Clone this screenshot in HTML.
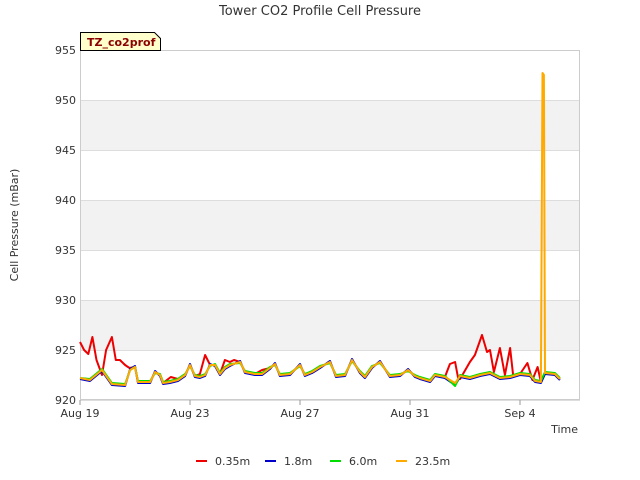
<!DOCTYPE html>
<html><head><meta charset="utf-8"><style>
body{margin:0;background:#fff;font-family:"Liberation Sans","DejaVu Sans",sans-serif;}
svg{display:block}
text{font-family:"DejaVu Sans","Liberation Sans",sans-serif}
</style></head><body>
<svg id="chart" width="640" height="480" viewBox="0 0 640 480" xmlns="http://www.w3.org/2000/svg">
<text x="320" y="15" text-anchor="middle" font-size="13" fill="#333">Tower CO2 Profile Cell Pressure</text>
<g id="plot"></g>
<text transform="translate(18,225) rotate(-90)" text-anchor="middle" font-size="11" fill="#333">Cell Pressure (mBar)</text>
<text x="578" y="433" text-anchor="end" font-size="11" fill="#333">Time</text>
<g>
<path d="M80.5,32.5 H154.5 L160.5,38.5 V50.5 H80.5 Z" fill="#ffffcc" stroke="#000" stroke-width="1"/>
<text x="87" y="46" font-size="11" font-weight="bold" fill="#8b0000">TZ_co2prof</text>
</g>
<g id="legend"></g>
</svg>
<script>
const yTicks=[920,925,930,935,940,945,950,955];
const xTickLabels=["Aug 19","Aug 23","Aug 27","Aug 31","Sep 4"];
const xTickDays=[0,4,8,12,16];
const baseT=[0,0.36,0.8,1.16,1.64,1.82,2.0,2.11,2.55,2.73,2.91,3.02,3.27,3.56,3.82,4.0,4.18,4.36,4.55,4.73,4.91,5.09,5.27,5.45,5.82,6.0,6.36,6.62,6.91,7.09,7.27,7.64,8.0,8.18,8.44,8.73,9.09,9.31,9.64,9.89,10.18,10.36,10.62,10.91,11.27,11.64,11.93,12.18,12.36,12.73,12.91,13.27,13.64,13.82,14.18,14.55,14.91,15.27,15.64,16.0,16.36,16.55,16.76,16.91,17.27,17.45];
const baseV=[922.2,922.0,923.0,921.6,921.5,923.0,923.3,921.8,921.8,922.8,922.5,921.7,921.8,922.0,922.5,923.5,922.4,922.3,922.5,923.5,923.5,922.6,923.2,923.5,923.8,922.8,922.6,922.6,923.2,923.6,922.5,922.6,923.5,922.5,922.8,923.3,923.8,922.4,922.5,924.0,922.8,922.3,923.3,923.8,922.4,922.5,923.0,922.4,922.2,921.9,922.5,922.3,921.6,922.4,922.2,922.5,922.7,922.2,922.3,922.6,922.5,921.9,921.8,922.7,922.6,922.1];
const blueV=[922.1,921.9,922.9,921.5,921.4,923.1,923.4,921.7,921.7,922.9,922.4,921.6,921.7,921.9,922.4,923.6,922.3,922.2,922.4,923.6,923.4,922.5,923.1,923.4,923.9,922.7,922.5,922.5,923.1,923.7,922.4,922.5,923.6,922.4,922.7,923.2,923.9,922.3,922.4,924.1,922.7,922.2,923.2,923.9,922.3,922.4,923.1,922.3,922.1,921.8,922.4,922.2,921.5,922.3,922.1,922.4,922.6,922.1,922.2,922.5,922.4,921.8,921.7,922.6,922.5,922.0];
const greenV=[922.2,922.1,923.1,921.7,921.6,923.0,923.3,921.9,921.9,922.7,922.6,921.8,921.9,922.1,922.6,923.4,922.5,922.4,922.6,923.4,923.6,922.7,923.3,923.6,923.7,922.9,922.7,922.7,923.3,923.5,922.6,922.7,923.4,922.6,922.9,923.4,923.7,922.5,922.6,923.9,922.9,922.4,923.4,923.7,922.5,922.6,922.9,922.5,922.3,922.0,922.6,922.4,921.4,922.5,922.3,922.6,922.8,922.3,922.4,922.7,922.6,922.0,921.9,922.8,922.7,922.2];
const orangeT=[0,0.36,0.8,1.16,1.64,1.82,2.0,2.11,2.55,2.73,2.91,3.02,3.27,3.56,3.82,4.0,4.18,4.36,4.55,4.73,4.91,5.09,5.27,5.45,5.82,6.0,6.36,6.62,6.91,7.09,7.27,7.64,8.0,8.18,8.44,8.73,9.09,9.31,9.64,9.89,10.18,10.36,10.62,10.91,11.27,11.64,11.93,12.18,12.36,12.73,12.91,13.27,13.64,13.82,14.18,14.55,14.91,15.27,15.64,16.0,16.36,16.55,16.76,16.82,16.87,16.91,17.27,17.45];
const orangeV=[922.2,922.0,923.0,921.6,921.5,923.0,923.3,921.8,921.8,922.8,922.5,921.7,921.8,922.0,922.5,923.5,922.4,922.3,922.5,923.5,923.5,922.6,923.2,923.5,923.8,922.8,922.6,922.6,923.2,923.6,922.5,922.6,923.5,922.5,922.8,923.3,923.8,922.4,922.5,924.0,922.8,922.3,923.3,923.8,922.4,922.5,923.0,922.4,922.2,921.9,922.5,922.3,921.7,922.4,922.2,922.5,922.7,922.2,922.3,922.6,922.5,921.9,921.8,952.7,952.5,922.7,922.6,922.1];
const redT=[0,0.15,0.3,0.45,0.6,0.8,0.95,1.16,1.3,1.45,1.64,1.8,2.0,2.11,2.55,2.73,2.91,3.02,3.3,3.56,3.82,4.0,4.18,4.36,4.55,4.73,4.91,5.09,5.27,5.45,5.6,5.82,6.0,6.36,6.62,6.91,7.09,7.27,7.64,8.0,8.18,8.44,8.73,9.09,9.31,9.64,9.89,10.18,10.36,10.62,10.91,11.27,11.64,11.93,12.18,12.36,12.73,12.91,13.27,13.45,13.64,13.75,13.82,14.18,14.36,14.62,14.8,14.91,15.05,15.27,15.45,15.64,15.75,16.0,16.27,16.45,16.64,16.76,16.91,17.27,17.45];
const redV=[925.8,925.0,924.6,926.3,924.0,922.5,925.0,926.3,924.0,924.0,923.5,923.2,923.3,921.8,921.8,922.8,922.5,921.7,922.3,922.1,922.5,923.5,922.4,922.6,924.5,923.5,923.5,922.6,924.0,923.8,924.0,923.8,922.8,922.6,923.0,923.2,923.6,922.5,922.6,923.5,922.5,922.8,923.3,923.8,922.4,922.5,924.0,922.8,922.3,923.3,923.8,922.4,922.5,923.0,922.4,922.2,921.9,922.5,922.3,923.6,923.8,922.2,922.1,923.8,924.5,926.5,924.8,925.0,922.8,925.2,922.5,925.2,922.5,922.6,923.7,922.0,923.3,921.8,922.7,922.6,922.1];
const seriesNames=["0.35m","1.8m","6.0m","23.5m"];
const seriesColors=["#ee0000","#0000cc","#00dd00","#ffaa00"];

const NS="http://www.w3.org/2000/svg";
const X0=80,X1=580,Y0=400,Y1=50;
const xs=d=>X0+d*27.5;
const ys=v=>Y0-(v-920)*(Y0-Y1)/35;
const plot=document.getElementById('plot');
function mk(tag,attrs,parent){const e=document.createElementNS(NS,tag);for(const k in attrs)e.setAttribute(k,attrs[k]);parent.appendChild(e);return e;}
// bands
for(let i=0;i<yTicks.length-1;i++){
  if(i%2===1){const r=mk('rect',{x:X0,y:ys(yTicks[i+1]),width:X1-X0,height:ys(yTicks[i])-ys(yTicks[i+1]),fill:'#f2f2f2'},plot);
  
  }
}
yTicks.forEach(v=>{
  const l=mk('line',{x1:X0,x2:X1,y1:ys(v)+0.5,y2:ys(v)+0.5,stroke:'#ddd'},plot);
  
  
  const t=mk('text',{x:X0-4,y:ys(v)+4,'text-anchor':'end','font-size':'11',fill:'#333'},plot);
  t.textContent=v;
  
  
});
const fr=mk('rect',{x:X0+0.5,y:Y1+0.5,width:X1-X0-1,height:Y0-Y1-1,fill:'none',stroke:'#ccc'},plot);


xTickDays.forEach((d,i)=>{
  const tk=mk('line',{x1:xs(d),x2:xs(d),y1:Y0,y2:Y0+5,stroke:'#999'},plot);
  
  
  const t=mk('text',{x:xs(d),y:Y0+17,'text-anchor':'middle','font-size':'11',fill:'#333'},plot);
  t.textContent=xTickLabels[i];
  
  
});
const sets=[[redT,redV],[baseT,blueV],[baseT,greenV],[orangeT,orangeV]];
sets.forEach((s,i)=>{
  const pts=s[0].map((t,j)=>xs(t).toFixed(1)+','+ys(s[1][j]).toFixed(1)).join(' ');
  const p=mk('polyline',{points:pts,fill:'none',stroke:seriesColors[i],'stroke-width':'2','stroke-linejoin':'round'},plot);
  
  
});
const lg=document.getElementById('legend');
const lx=[196,265,330,396];
seriesNames.forEach((n,i)=>{
  const g=mk('g',{},lg);
  
  
  mk('line',{x1:lx[i],x2:lx[i]+11,y1:461,y2:461,stroke:seriesColors[i],'stroke-width':'2'},g);
  const t=mk('text',{x:lx[i]+19,y:465,'font-size':'11',fill:'#333'},g);
  t.textContent=n;
});
</script>
</body></html>
